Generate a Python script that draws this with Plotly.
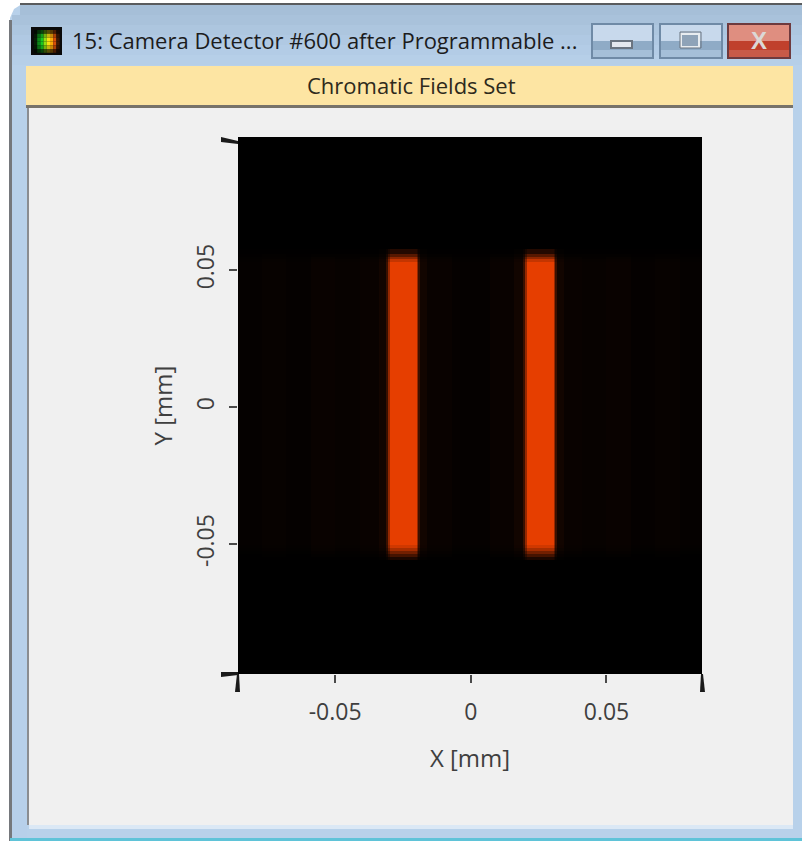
import plotly.graph_objects as go

W, H = 802, 841
PL, PR, PT, PB = 238, 702, 137, 674

# --- chart data (mm, relative intensity) ---
x_edges = [-0.0858, -0.0770, -0.0680, -0.0590, -0.0500, -0.0410, -0.0340, -0.0312, -0.0305, -0.0298,
           -0.0200, -0.0193, -0.0186, -0.0160, -0.0070, 0.0070, 0.0160, 0.0193, 0.0200, 0.0207,
           0.0305, 0.0312, 0.0319, 0.0345, 0.0410, 0.0500, 0.0590, 0.0680, 0.0770, 0.0852]
x_profile = [0.02, 0.03, 0.02, 0.04, 0.03, 0.04, 0.08, 0.25, 0.65, 1.00,
             0.65, 0.25, 0.08, 0.04, 0.02, 0.04, 0.08, 0.25, 0.65, 1.00,
             0.65, 0.25, 0.08, 0.04, 0.03, 0.04, 0.02, 0.03, 0.02]
y_edges = [-0.09745, -0.0558, -0.0547, -0.0536, -0.0525, -0.0514, -0.0504,
           0.0529, 0.0539, 0.0549, 0.0559, 0.0577, 0.09855]
y_profile = [0.00, 0.12, 0.30, 0.50, 0.72, 0.90, 1.00, 0.85, 0.62, 0.38, 0.15, 0.00]
x_ticks = [-0.05, 0, 0.05]
x_labels = ["-0.05", "0", "0.05"]
y_ticks = [-0.05, 0, 0.05]
y_labels = ["-0.05", "0", "0.05"]
intensity = [[a * b for a in x_profile] for b in y_profile]

FONT = "Open Sans"
TXT = "#3f3f3f"


def fx(p):
    return (p - PL) / (PR - PL)


def fy(p):
    return (PB - p) / (PB - PT)


shapes = []


def rect(x0, y0, x1, y1, fill, line=None, lw=1, layer="below"):
    shapes.append(dict(type="rect", xref="paper", yref="paper", x0=fx(x0), x1=fx(x1), y0=fy(y1), y1=fy(y0),
                       fillcolor=fill, line=dict(color=line or fill, width=lw if line else 0), layer=layer))


def path(points, fill, layer="above"):
    d = "M" + " L".join(f"{fx(a):.5f},{fy(b):.5f}" for a, b in points) + " Z"
    shapes.append(dict(type="path", xref="paper", yref="paper", path=d, fillcolor=fill,
                       line=dict(width=0, color=fill), layer=layer))


# window frame
path([(10, 841), (10, 18), (14, 9), (22, 4), (802, 4), (802, 841)], "#b8d1ea", "below")
rect(9, 20, 12, 841, "#75787c")
rect(20, 3, 802, 5, "#5a5c5e")
for i, c in enumerate(["#a6bfd8", "#a9c2db", "#adc6df", "#b0c9e3", "#b3cce6", "#b6cfe8"]):
    rect(12 if i else 20, 5 + i * 10, 802, 15 + i * 10, c)
rect(10, 838, 802, 841, "#5fc3d8")
rect(12, 240, 27, 838, "#b7d0ea")

# content panel and banner
rect(27, 106, 793, 825, "#f0f0f0")
rect(27, 106, 29, 825, "#8a8d91")
rect(29, 825, 793, 829, "#dbe8f5")
rect(26, 66, 793, 105, "#fde5a3")
rect(26, 105, 793, 108, "#77736a")

# title-bar icon
rect(31, 27, 62, 55, "#0a0a0a")
ICON = ["#062006", "#0c8a18", "#18c820", "#90e010", "#f4e010", "#f8a808", "#d85008", "#401a04"]
FADE = [0.35, 0.8, 1.0, 1.0, 0.8, 0.35]
for i, c in enumerate(ICON):
    for j, f in enumerate(FADE):
        r, g, b = int(c[1:3], 16), int(c[3:5], 16), int(c[5:7], 16)
        rect(34 + i * 3.2, 30 + j * 3.8, 34 + (i + 1) * 3.2, 30 + (j + 1) * 3.8,
             f"rgb({int(r * f)},{int(g * f)},{int(b * f)})")

# window buttons
for x0, x1, top, mid, bot, edge in [(592, 653, "#c8d9ec", "#8fabc6", "#a5bfd8", "#6f8aa6"),
                                    (660, 722, "#c8d9ec", "#8fabc6", "#a5bfd8", "#6f8aa6"),
                                    (728, 790, "#df8e80", "#c0402c", "#c85a48", "#6e3a3e")]:
    rect(x0, 24, x1, 41, top)
    rect(x0, 41, x1, 50, mid)
    rect(x0, 50, x1, 58, bot)
    shapes.append(dict(type="rect", xref="paper", yref="paper", x0=fx(x0), x1=fx(x1), y0=fy(58), y1=fy(24),
                       fillcolor="rgba(0,0,0,0)", line=dict(color=edge, width=2), layer="below"))
rect(611, 41, 632, 48, "#e4e8ee", "#6a7480", 2)
rect(681, 34, 699, 47, "#8fa3b8", "#e8ecf0", 2)
rect(680, 32, 701, 48, "rgba(0,0,0,0)", "#68727e", 1)

# axis end ticks (heavier wedges at the corners)
path([(PL - 17, 137), (PL, 141), (PL, 144), (PL - 17, 142)], "#1a1a1a")
path([(PL - 17, 672), (PL, 672), (PL, 675), (PL - 17, 677)], "#1a1a1a")
path([(PL - 1, 674), (PL + 1, 674), (PL + 2, 692), (PL - 3, 692)], "#1a1a1a")
path([(PR - 1, 674), (PR + 1, 674), (PR + 3, 692), (PR - 2, 692)], "#1a1a1a")

fig = go.Figure(go.Heatmap(
    x=x_edges, y=y_edges, z=intensity, zmin=0, zmax=1, showscale=False, hoverinfo="skip",
    colorscale=[[0, "#000000"], [1, "#e63e00"]],
))

ann = [
    dict(text="15: Camera Detector #600 after Programmable ...", x=fx(70), y=fy(40), xanchor="left", yanchor="middle",
         font=dict(size=22, color="#1c1c1c", family=FONT)),
    dict(text="Chromatic Fields Set", x=fx(411), y=fy(85), xanchor="center", yanchor="middle",
         font=dict(size=22, color="#2e2a1c", family=FONT)),
    dict(text="<b>X</b>", x=fx(759), y=fy(40), xanchor="center", yanchor="middle",
         font=dict(size=24, color="#dcd8d6", family="Liberation Sans")),
]
for a in ann:
    a.update(xref="paper", yref="paper", showarrow=False)

axis = dict(showgrid=False, zeroline=False, showline=False, ticks="outside", ticklen=8, tickwidth=2,
            tickcolor="#4a4a4a", tickfont=dict(size=23, color=TXT, family=FONT))

fig.update_layout(
    width=W, height=H, autosize=False,
    margin=dict(l=PL, r=W - PR, t=PT, b=H - PB, pad=0),
    paper_bgcolor="#ffffff", plot_bgcolor="#000000",
    xaxis=dict(axis, range=[-0.0858, 0.0852], tickmode="array", tickvals=x_ticks, ticktext=x_labels,
               ticklabelstandoff=9,
               title=dict(text="X [mm]", font=dict(size=24, color=TXT, family=FONT), standoff=24)),
    yaxis=dict(axis, range=[-0.09745, 0.09855], tickmode="array", tickvals=y_ticks, ticktext=y_labels, tickangle=-90,
               ticklabelstandoff=6,
               title=dict(text="Y [mm]", font=dict(size=24, color=TXT, family=FONT), standoff=9)),
    shapes=shapes, annotations=ann,
)

fig.write_html("out.html", config={"displayModeBar": False},
               post_script="document.body.style.margin='0';document.documentElement.style.overflow='hidden';")
